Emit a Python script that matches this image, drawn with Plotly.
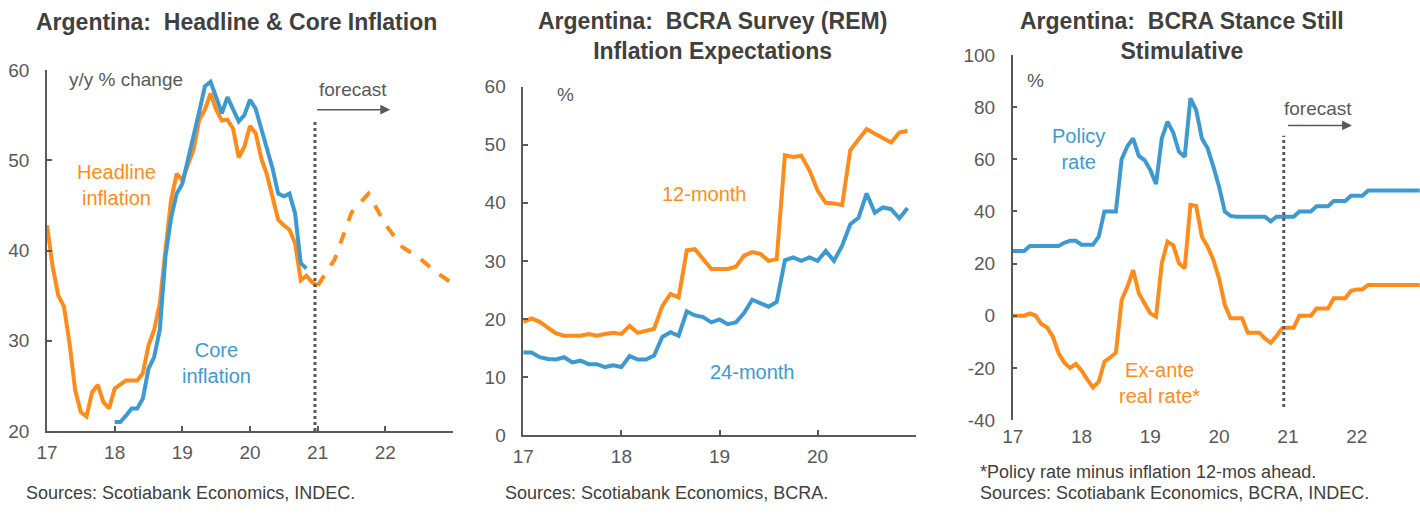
import numpy as np
import plotly.graph_objects as go

# ---------------- data ----------------
# Panel 1: y/y % change, monthly from Jan-17 (x = 17 + i/12)
headline = [42.8, 38.2, 35.0, 33.8, 29.7, 24.5, 22.1, 21.6, 24.3, 25.1, 23.2, 22.5,
            24.7, 25.1, 25.6, 25.6, 25.6, 26.4, 29.5, 31.2, 34.1, 40.0, 45.6, 48.5,
            47.8, 49.5, 51.2, 54.5, 55.6, 57.4, 55.6, 54.4, 54.5, 53.5, 50.3, 51.5,
            53.8, 53.0, 50.2, 48.4, 46.1, 43.4, 42.8, 42.3, 40.8, 36.7, 37.2, 36.5,
            36.1]
headline_fcst = [36.1, 39.0, 44.2, 46.3, 42.9, 40.4, 39.2, 37.6, 36.3]  # quarterly from 21.0
core = [21.0, 21.0, 21.7, 22.5, 22.5, 23.6, 26.9, 28.2, 31.2, 39.3, 43.6, 46.3,
        47.4, 50.0, 52.4, 55.4, 58.2, 58.7, 57.0, 55.2, 57.0, 55.7, 54.3, 55.0,
        56.7, 55.7, 53.5, 51.5, 49.1, 46.3, 46.0, 46.3, 44.1, 38.6, 38.0]  # from Jan-18

# Panel 2: REM expectations, monthly from Jan-17
exp_12m = [19.5, 20.1, 19.5, 18.4, 17.5, 17.1, 17.1, 17.1, 17.4, 17.1, 17.4, 17.6,
           17.4, 18.8, 17.6, 17.9, 18.3, 22.2, 24.3, 23.7, 31.8, 32.0, 30.4, 28.6,
           28.6, 28.6, 29.0, 30.9, 31.5, 31.2, 30.0, 30.3, 48.2, 47.9, 48.1, 45.6,
           42.1, 40.0, 39.9, 39.6, 49.1, 50.8, 52.7, 51.9, 51.1, 50.4, 52.1, 52.4]
exp_24m = [14.2, 14.2, 13.4, 13.1, 13.0, 13.4, 12.5, 12.8, 12.2, 12.2, 11.7, 12.0,
           11.7, 13.6, 13.0, 13.0, 13.7, 16.9, 17.7, 17.1, 21.3, 20.6, 20.3, 19.4,
           19.9, 19.1, 19.4, 21.0, 23.3, 22.7, 22.1, 22.9, 30.1, 30.6, 30.0, 30.6,
           30.0, 31.7, 30.0, 32.6, 36.3, 37.4, 41.6, 38.3, 39.2, 38.9, 37.3, 39.1]

# Panel 3: policy rate and ex-ante real rate, monthly from Jan-17
policy = [24.8, 24.8, 24.8, 26.75, 26.75, 26.75, 26.75, 26.75, 26.75, 28.0, 28.75, 28.75,
          27.25, 27.25, 27.25, 30.3, 40.0, 40.0, 40.0, 60.0, 65.0, 68.0, 61.3, 59.7,
          55.9, 50.5, 68.0, 74.4, 70.2, 62.9, 61.0, 83.4, 78.9, 68.0, 64.2, 57.2,
          49.5, 39.9, 38.3, 38.0, 38.0, 38.0, 38.0, 38.0, 38.0, 36.2, 38.0, 38.0,
          38.0, 38.0, 40.0, 40.0, 40.0, 42.0, 42.0, 42.0, 44.0, 44.0, 44.0, 46.0,
          46.0, 46.0, 48.0, 48.0, 48.0, 48.0, 48.0, 48.0, 48.0, 48.0, 48.0, 48.0]
real_rate = [0.0, 0.0, 0.0, 0.9, 0.0, -3.2, -4.5, -8.0, -14.4, -18.0, -20.0, -18.5,
             -21.0, -24.4, -27.5, -25.3, -17.6, -16.0, -14.2, 6.0, 11.1, 17.5, 8.6, 4.7,
             0.9, -0.4, 20.1, 28.4, 27.0, 20.1, 18.2, 42.5, 42.1, 30.3, 26.5, 21.4,
             14.3, 4.1, -1.0, -1.0, -1.0, -6.5, -6.5, -6.5, -8.7, -10.4, -7.8, -4.9,
             -4.6, -4.6, 0.0, 0.0, 0.0, 2.8, 2.8, 2.8, 6.7, 6.7, 6.7, 9.6, 10.1, 10.1,
             11.8, 11.8, 11.8, 11.8, 11.8, 11.8, 11.8, 11.8, 11.8, 11.8]

year_ticks = [17, 18, 19, 20, 21, 22, 23]
year_labels = ["17", "18", "19", "20", "21", "22", ""]
p3_ticks = [-40, -20, 0, 20, 40, 60, 80, 100]
p3_labels = ["-40", "-20", "0", "20", "40", "60", "80", "100"]

# ---------------- style ----------------
ORANGE = "#FF8C1A"
BLUE = "#3D9AD1"
GRAY = "#595959"
DARK = "#404040"
FONT = "Liberation Sans, Arial, sans-serif"
W, H = 1420, 516


def px(x):
    return x / W


def py(y):
    return 1 - y / H


def monthly(start, n):
    return start + np.arange(n) / 12.0


fig = go.Figure()

# Panel 1
fig.add_trace(go.Scatter(x=monthly(17, len(headline)), y=headline, mode="lines",
                         line=dict(color=ORANGE, width=4), xaxis="x", yaxis="y"))
fig.add_trace(go.Scatter(x=21 + np.arange(len(headline_fcst)) / 4.0, y=headline_fcst,
                         mode="lines", line=dict(color=ORANGE, width=4, dash="dash"),
                         xaxis="x", yaxis="y"))
fig.add_trace(go.Scatter(x=monthly(18, len(core)), y=core, mode="lines",
                         line=dict(color=BLUE, width=4), xaxis="x", yaxis="y"))

# Panel 2
fig.add_trace(go.Scatter(x=monthly(17, len(exp_12m)), y=exp_12m, mode="lines",
                         line=dict(color=ORANGE, width=4), xaxis="x2", yaxis="y2"))
fig.add_trace(go.Scatter(x=monthly(17, len(exp_24m)), y=exp_24m, mode="lines",
                         line=dict(color=BLUE, width=4), xaxis="x2", yaxis="y2"))

# Panel 3
fig.add_trace(go.Scatter(x=monthly(17, len(policy)), y=policy, mode="lines",
                         line=dict(color=BLUE, width=4), xaxis="x3", yaxis="y3"))
fig.add_trace(go.Scatter(x=monthly(17, len(real_rate)), y=real_rate, mode="lines",
                         line=dict(color=ORANGE, width=4), xaxis="x3", yaxis="y3"))

tickfont = dict(family=FONT, size=19, color=GRAY)

d1x = [px(47), px(453)]
d1y = [py(431), py(70)]
d2x = [px(523.3), px(915.7)]
d2y = [py(435), py(86.7)]
d3x = [px(1012.7), 1.0]
d3y = [py(420), py(55)]

axis_common = dict(showgrid=False, zeroline=False, linecolor=GRAY, linewidth=1.5,
                   tickcolor=GRAY, tickwidth=1.5, ticklen=5, tickfont=tickfont,
                   automargin=False)
xstand = dict(ticklabelstandoff=3)
ystand = dict(ticklabelstandoff=12)

p3_range = [-40, 100]
zero_pos = d3y[0] + (0 - p3_range[0]) / (p3_range[1] - p3_range[0]) * (d3y[1] - d3y[0])

fig.update_layout(
    width=W, height=H, margin=dict(l=0, r=0, t=0, b=0, pad=0),
    paper_bgcolor="white", plot_bgcolor="white", showlegend=False,
    font=dict(family=FONT, color=GRAY),
    xaxis=dict(domain=d1x, anchor="y", range=[17, 23], tickvals=year_ticks,
               ticktext=year_labels, showline=True, ticks="inside", **axis_common, **xstand),
    yaxis=dict(domain=d1y, anchor="x", range=[20, 60], tickvals=[20, 30, 40, 50, 60],
               showline=True, ticks="inside", **axis_common, **ystand),
    xaxis2=dict(domain=d2x, anchor="y2", range=[17, 21], tickvals=[17, 18, 19, 20],
                ticktext=["17", "18", "19", "20"], showline=True, ticks="inside",
                **axis_common, **xstand),
    yaxis2=dict(domain=d2y, anchor="x2", range=[0, 60], tickvals=[0, 10, 20, 30, 40, 50, 60],
                showline=True, ticks="inside", **axis_common, **ystand),
    xaxis3=dict(domain=d3x, anchor="y3", range=[17, 22.92], tickvals=year_ticks[:-1],
                ticktext=year_labels[:-1], showline=False, ticks="", **axis_common, **xstand),
    xaxis4=dict(domain=d3x, anchor="free", position=zero_pos, overlaying="x3",
                range=[17, 22.92], tickvals=year_ticks[:-1], showticklabels=False,
                showline=True, ticks="inside", **axis_common),
    yaxis3=dict(domain=d3y, anchor="x3", range=p3_range, tickvals=p3_ticks,
                ticktext=p3_labels, showline=True, ticks="inside", **axis_common, **ystand),
)

# forecast markers
fig.add_shape(type="line", xref="x", yref="y", x0=20.96, x1=20.96, y0=20, y1=54.5,
              line=dict(color=GRAY, width=3, dash="dot"))
fig.add_shape(type="line", xref="x3", yref="y3", x0=20.94, x1=20.94, y0=-35, y1=69,
              line=dict(color=GRAY, width=3, dash="dot"))

ann = []


def text(x, y, t, xref, yref, color=GRAY, size=19, xanchor="center", yanchor="middle", **kw):
    ann.append(dict(x=x, y=y, text=t, xref=xref, yref=yref, showarrow=False,
                    xanchor=xanchor, yanchor=yanchor,
                    font=dict(family=FONT, size=size, color=color), **kw))


def arrow(x0, x1, y, xref, yref):
    ann.append(dict(x=x1, y=y, ax=x0, ay=y, xref=xref, yref=yref, axref=xref, ayref=yref,
                    showarrow=True, arrowhead=2, arrowsize=1.3, arrowwidth=1.5,
                    arrowcolor=GRAY, text=""))


# Panel 1 annotations
text(17.29, 58.9, "y/y % change", "x", "y", xanchor="left")
text(20.99, 57.8, "forecast", "x", "y", xanchor="left")
arrow(20.97, 22.07, 55.6, "x", "y")
text(18.03, 47.3, "Headline<br>inflation", "x", "y", color=ORANGE, size=20)
text(19.5, 27.5, "Core<br>inflation", "x", "y", color=BLUE, size=20)

# Panel 2 annotations
text(17.32, 58.6, "%", "x2", "y2", xanchor="left")
text(18.85, 41.6, "12-month", "x2", "y2", color=ORANGE, size=20)
text(19.34, 10.9, "24-month", "x2", "y2", color=BLUE, size=20)

# Panel 3 annotations
text(17.18, 90.4, "%", "x3", "y3", xanchor="left")
text(20.91, 79.5, "forecast", "x3", "y3", xanchor="left")
arrow(20.98, 21.93, 73, "x3", "y3")
text(17.95, 64, "Policy<br>rate", "x3", "y3", color=BLUE, size=20)
text(19.14, -25.9, "Ex-ante<br>real rate*", "x3", "y3", color=ORANGE, size=20)

# Titles
title_font = 23
text(px(236), py(22), "<b>Argentina:  Headline & Core Inflation</b>", "paper", "paper",
     color=DARK, size=title_font)
text(px(712), py(36), "<b>Argentina:  BCRA Survey (REM)<br>Inflation Expectations</b>",
     "paper", "paper", color=DARK, size=title_font)
text(px(1182), py(36), "<b>Argentina:  BCRA Stance Still<br>Stimulative</b>",
     "paper", "paper", color=DARK, size=title_font)

# Footnotes
text(px(24), py(493), "Sources: Scotiabank Economics, INDEC.", "paper", "paper",
     color=DARK, size=18, xanchor="left")
text(px(503), py(493), "Sources: Scotiabank Economics, BCRA.", "paper", "paper",
     color=DARK, size=18, xanchor="left")
text(px(978), py(472), "*Policy rate minus inflation 12-mos ahead.", "paper", "paper",
     color=DARK, size=18, xanchor="left")
text(px(978), py(493), "Sources: Scotiabank Economics, BCRA, INDEC.", "paper", "paper",
     color=DARK, size=18, xanchor="left")

fig.update_layout(annotations=ann)
fig.write_html("out.html", config={"displayModeBar": False},
               post_script="document.body.style.margin='0px';document.body.style.padding='0px';")
